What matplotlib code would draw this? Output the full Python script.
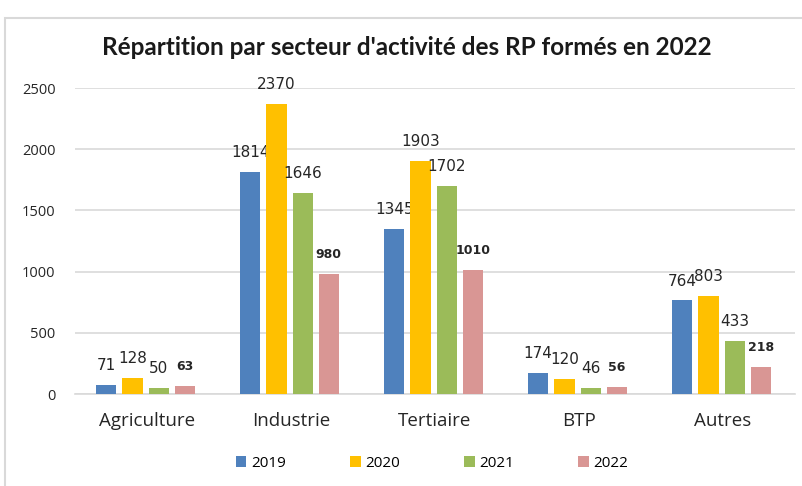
import matplotlib.pyplot as plt
import matplotlib.patches as mpatches
import numpy as np

# data
categories = ['Agriculture', 'Industrie', 'Tertiaire', 'BTP', 'Autres']
years = ['2019', '2020', '2021', '2022']
v2019 = [71, 1814, 1345, 174, 764]
v2020 = [128, 2370, 1903, 120, 803]
v2021 = [50, 1646, 1702, 46, 433]
v2022 = [63, 980, 1010, 56, 218]
colors = ['#4f81bd', '#ffc000', '#9bbb59', '#d99694']

fig = plt.figure(figsize=(8.02, 4.86), dpi=100)
ax = fig.add_axes([75 / 802, 92 / 486, 720 / 802, 306 / 486])

# chart frame
fig.patches.append(mpatches.Rectangle((5 / 802, -0.1), 1.1, (486 - 18) / 486 + 0.1,
                                      transform=fig.transFigure, fill=False,
                                      edgecolor='#d9d9d9', linewidth=1.5))

x = np.arange(len(categories))
w = 0.14
step = 0.182
series = [v2019, v2020, v2021, v2022]
for i, (vals, c, yr) in enumerate(zip(series, colors, years)):
    pos = x + (i - 1.5) * step - 0.01
    bars = ax.bar(pos, vals, width=w, color=c, label=yr, zorder=3)
    for b, v in zip(bars, vals):
        bold = (i == 3)
        ax.annotate(str(v), (b.get_x() + b.get_width() / 2, v),
                    xytext=(0, 14), textcoords='offset points',
                    ha='center', va='center',
                    fontsize=9 if bold else 11,
                    fontweight='bold' if bold else 'normal',
                    family='DejaVu Sans', color='#262626')

ax.set_xlim(-0.5, len(categories) - 0.5)
ax.set_ylim(0, 2500)
ax.set_yticks(range(0, 2501, 500))
ax.yaxis.grid(True, color='#d9d9d9', linewidth=1.2, zorder=0)
ax.set_axisbelow(True)
for s in ['top', 'right', 'left']:
    ax.spines[s].set_visible(False)
ax.spines['bottom'].set_color('#d9d9d9')
ax.spines['bottom'].set_linewidth(1.2)
ax.tick_params(axis='both', length=0, colors='#404040')
ax.tick_params(axis='y', pad=14)
ax.tick_params(axis='x', pad=13)
ax.set_xticks(x)
ax.set_xticklabels(categories, fontsize=13.5, family='Open Sans', color='#262626')
for lab in ax.get_yticklabels():
    lab.set_fontsize(10.5)
    lab.set_family('Open Sans')
    lab.set_color('#262626')

fig.text(407 / 802, 1 - 47 / 486, "Répartition par secteur d'activité des RP formés en 2022",
         ha='center', va='center', fontsize=17.5, fontweight='bold', family='Lato',
         color='#1a1a1a')

fig.legend(loc='center', bbox_to_anchor=(432 / 802, 1 - 463 / 486), ncol=4,
           frameon=False, handlelength=0.7, handleheight=0.7, handletextpad=0.3,
           columnspacing=4.2, prop={'family': 'Open Sans', 'size': 11})

fig.savefig('out.png', dpi=100)
